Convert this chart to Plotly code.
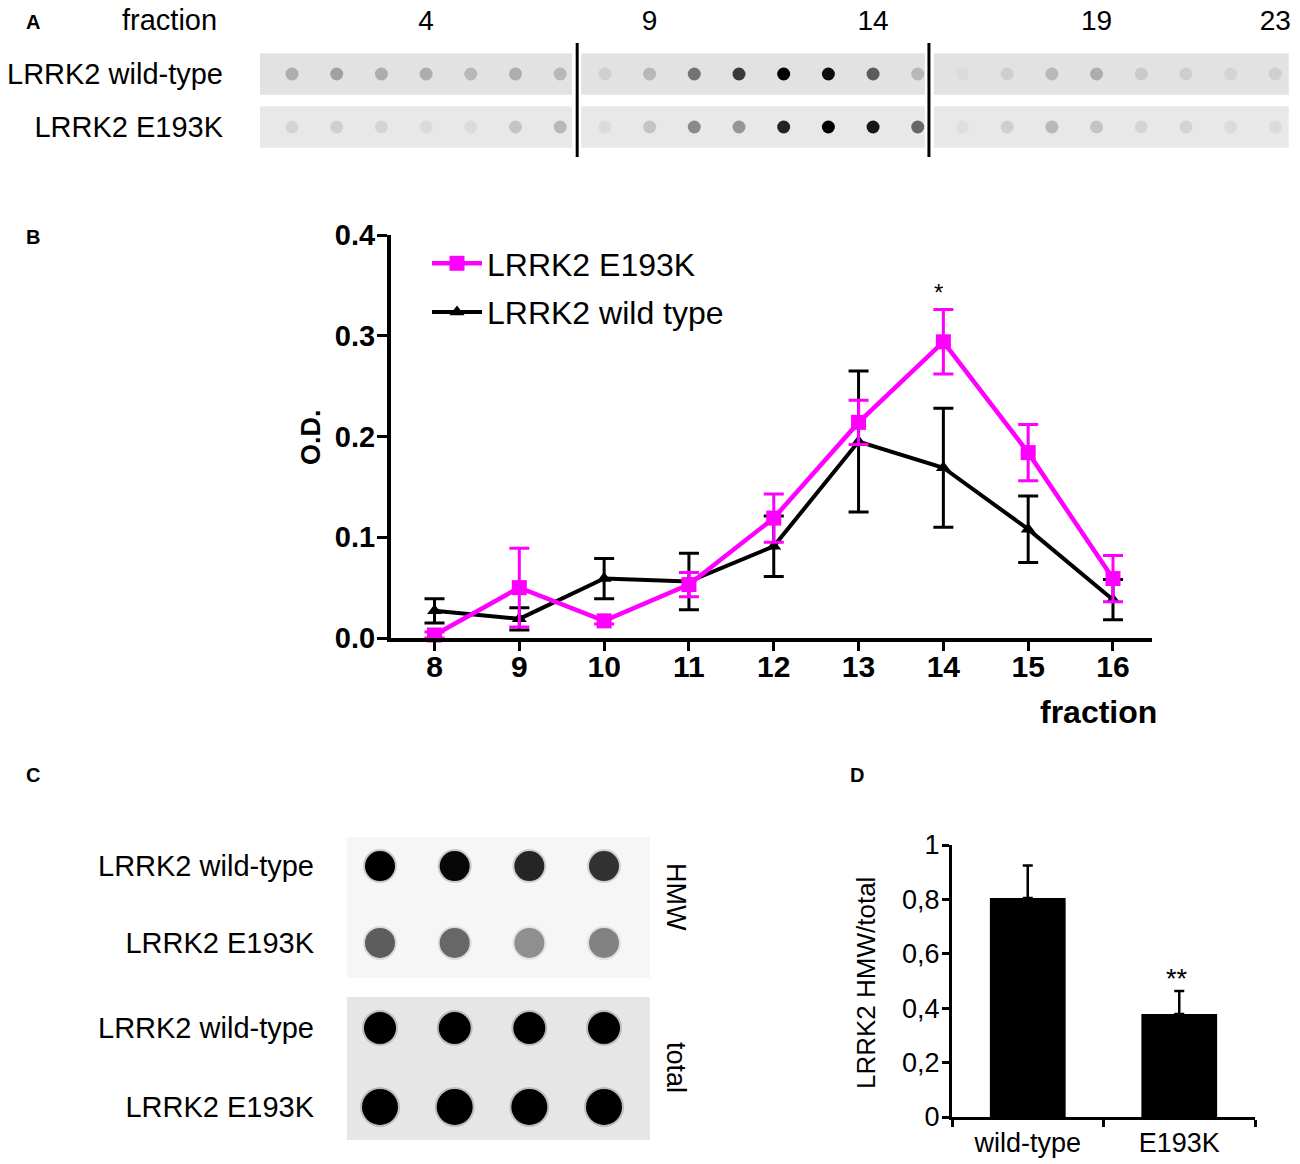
import plotly.graph_objects as go

W, H = 1300, 1164
FONT = "Liberation Sans, Arial, sans-serif"
MAGENTA = "#ff00ff"

# panel A: dot blot, fractions 1-23 (0 = no signal, 1 = black)
blot_fractions = list(range(1, 24))
blot_rows = ["LRRK2 wild-type", "LRRK2 E193K"]
blot_wt = [0.25, 0.3, 0.25, 0.25, 0.2, 0.25, 0.2, 0.1, 0.2, 0.5, 0.75, 1.0,
           0.95, 0.6, 0.2, 0.05, 0.1, 0.2, 0.25, 0.12, 0.1, 0.08, 0.1]
blot_e193k = [0.08, 0.1, 0.08, 0.05, 0.05, 0.15, 0.2, 0.05, 0.15, 0.4, 0.35, 0.85,
              1.0, 0.9, 0.55, 0.03, 0.1, 0.2, 0.15, 0.08, 0.08, 0.05, 0.05]
fraction_ticks = [4, 9, 14, 19, 23]

# panel B: O.D. per fraction (mean, sem)
fractions = [8, 9, 10, 11, 12, 13, 14, 15, 16]
od_e193k = [0.003, 0.05, 0.017, 0.053, 0.119, 0.214, 0.294, 0.184, 0.059]
od_e193k_err = [0.003, 0.039, 0.003, 0.012, 0.024, 0.022, 0.032, 0.028, 0.023]
od_wt = [0.027, 0.019, 0.059, 0.056, 0.091, 0.195, 0.169, 0.108, 0.038]
od_wt_err = [0.012, 0.011, 0.02, 0.028, 0.03, 0.07, 0.059, 0.033, 0.02]

# panel C: HMW and total dot blots, 4 replicates
replicates = [1, 2, 3, 4]
hmw_wt = [1.0, 0.97, 0.85, 0.8]
hmw_e193k = [0.62, 0.58, 0.42, 0.47]
total_wt = [1.0, 1.0, 1.0, 1.0]
total_e193k = [1.0, 1.0, 1.0, 1.0]

# panel D: HMW / total ratio
groups = ["wild-type", "E193K"]
hmw_ratio = [0.805, 0.379]
hmw_ratio_err = [0.12, 0.084]
d_ticks = [0, 0.2, 0.4, 0.6, 0.8, 1]


def px(x):
    return x / W


def py(y):
    return 1 - y / H


fig = go.Figure()

# --- A ---
for row, vals in zip(blot_rows, [blot_wt, blot_e193k]):
    fig.add_trace(go.Scatter(
        x=blot_fractions, y=[row] * len(blot_fractions), mode="markers",
        marker=dict(size=13, color=vals, cmin=0, cmax=1,
                    colorscale=[[0, "#e6e6e6"], [1, "#000000"]]),
        xaxis="x", yaxis="y", showlegend=False, hoverinfo="skip"))

# --- B ---
fig.add_trace(go.Scatter(
    x=fractions, y=od_wt, mode="lines+markers", name="LRRK2 wild type",
    line=dict(color="black", width=4),
    marker=dict(symbol="triangle-up", size=13, color="black"),
    error_y=dict(type="data", array=od_wt_err, color="black", thickness=3, width=10),
    xaxis="x2", yaxis="y2", legendgroup="wt", legendrank=2, cliponaxis=False))
fig.add_trace(go.Scatter(
    x=fractions, y=od_e193k, mode="lines+markers", name="LRRK2 E193K",
    line=dict(color=MAGENTA, width=4.5),
    marker=dict(symbol="square", size=15, color=MAGENTA),
    error_y=dict(type="data", array=od_e193k_err, color=MAGENTA, thickness=3, width=10),
    xaxis="x2", yaxis="y2", legendgroup="mut", legendrank=1, cliponaxis=False))

# --- C ---
for yax, vals_wt, vals_mut, bg, sizes in [
    ("y4", hmw_wt, hmw_e193k, "#f6f6f6", (30, 30)),
    ("y5", total_wt, total_e193k, "#e6e6e6", (32, 36)),
]:
    for row, vals, s in zip(blot_rows, [vals_wt, vals_mut], sizes):
        for extra, op in [(4, 0.18), (0, 1.0)]:
            fig.add_trace(go.Scatter(
                x=replicates, y=[row] * len(replicates), mode="markers",
                marker=dict(size=s + extra, color=vals, cmin=0, cmax=1, opacity=op,
                            colorscale=[[0, bg], [1, "#000000"]], line_width=0),
                xaxis="x4", yaxis=yax, showlegend=False, hoverinfo="skip"))

# --- D ---
fig.add_trace(go.Bar(
    x=[0, 1], y=hmw_ratio, width=0.5, marker=dict(color="black", line=dict(width=0)),
    error_y=dict(type="data", symmetric=False, array=hmw_ratio_err, arrayminus=[0, 0],
                 color="black", thickness=2.5, width=5),
    xaxis="x3", yaxis="y3", showlegend=False))

noax = dict(showgrid=False, zeroline=False, showline=False, automargin=False)

shapes = []
# strips of panel A
for r, col in [(0, "#e2e2e2"), (1, "#e8e8e8")]:
    for x0, x1 in [(0.284, 7.26), (7.47, 15.16), (15.36, 23.3)]:
        shapes.append(dict(type="rect", xref="x", yref="y", x0=x0, x1=x1,
                           y0=r - 0.39, y1=r + 0.39, fillcolor=col, line_width=0,
                           layer="below"))
for xs in [7.38, 15.25]:
    shapes.append(dict(type="line", xref="x", yref="y domain", x0=xs, x1=xs, y0=0, y1=1,
                       line=dict(color="black", width=3)))
# boxes of panel C
for yref, col in [("y4 domain", "#f6f6f6"), ("y5 domain", "#e6e6e6")]:
    shapes.append(dict(type="rect", xref="x4 domain", yref=yref, x0=0, x1=1, y0=0, y1=1,
                       fillcolor=col, line_width=0, layer="below"))

ann = []


def text(x, y, s, size, bold=False, xanchor="center", angle=0):
    ann.append(dict(x=px(x), y=py(y), xref="paper", yref="paper", text=s, showarrow=False,
                    xanchor=xanchor, yanchor="middle", textangle=angle,
                    font=dict(family=FONT, size=size, color="black",
                              weight="bold" if bold else "normal")))


for lab, x, y in [("A", 33, 22), ("B", 33, 237), ("C", 33, 775), ("D", 857, 775)]:
    text(x, y, lab, 20, bold=True)
text(169, 20, "fraction", 29)
text(311, 437, "O.D.", 27, bold=True, angle=-90)
text(1098, 712, "fraction", 32, bold=True)
text(938, 292, "*", 24)
text(676, 897, "HMW", 27, angle=90)
text(676, 1067, "total", 27, angle=90)
text(866, 983, "LRRK2 HMW/total", 26, angle=-90)
text(1177, 979, "**", 27)

fig.update_layout(
    width=W, height=H, margin=dict(l=0, r=0, t=0, b=0, autoexpand=False),
    paper_bgcolor="white", plot_bgcolor="rgba(0,0,0,0)",
    font=dict(family=FONT, color="black"),
    shapes=shapes, annotations=ann,
    legend=dict(x=px(427), y=py(236), xanchor="left", yanchor="top",
                bgcolor="rgba(0,0,0,0)", tracegroupgap=4, itemwidth=50,
                font=dict(family=FONT, size=32, color="black")),
    # A
    xaxis=dict(domain=[px(250), px(1295)], range=[0.06, 23.44], side="top", anchor="y",
               tickvals=fraction_ticks, ticks="", ticklabelstandoff=6,
               tickfont=dict(family=FONT, size=28, color="black"), **noax),
    yaxis=dict(domain=[py(157), py(43)], type="category", categoryarray=blot_rows,
               range=[1.566, -0.585], anchor="x", ticks="", ticklabelstandoff=26,
               tickfont=dict(family=FONT, size=29, color="black"), **noax),
    # B
    xaxis2=dict(domain=[px(391), px(1152)], range=[7.487, 16.46], anchor="y2",
                tickvals=fractions, showline=True, linewidth=4, linecolor="black",
                ticks="outside", ticklen=9, tickwidth=3, tickcolor="black",
                ticklabelstandoff=-10,
                tickfont=dict(family=FONT, size=30, color="black", weight="bold"),
                showgrid=False, zeroline=False, automargin=False),
    yaxis2=dict(domain=[py(638), py(235)], range=[0, 0.4], anchor="x2",
                tickvals=[0, 0.1, 0.2, 0.3, 0.4], tickformat=".1f",
                showline=True, linewidth=4, linecolor="black",
                ticks="outside", ticklen=10, tickwidth=3, tickcolor="black",
                ticklabelstandoff=-4,
                tickfont=dict(family=FONT, size=29, color="black", weight="bold"),
                showgrid=False, zeroline=False, automargin=False),
    # D
    xaxis3=dict(domain=[px(952), px(1255)], range=[-0.5, 1.5], anchor="y3",
                tickvals=[0, 1], ticktext=groups, ticks="",
                minor=dict(tick0=-0.5, dtick=1, ticks="outside", ticklen=7, tickwidth=3,
                           tickcolor="black"),
                showline=True, linewidth=3, linecolor="black",
                tickfont=dict(family=FONT, size=27, color="black"),
                showgrid=False, zeroline=False, automargin=False),
    yaxis3=dict(domain=[py(1117), py(845)], range=[0, 1], anchor="x3",
                tickvals=d_ticks, ticktext=[str(v).replace(".", ",") for v in d_ticks],
                showline=True, linewidth=3, linecolor="black",
                ticks="outside", ticklen=7, tickwidth=3, tickcolor="black",
                ticklabelstandoff=-3,
                tickfont=dict(family=FONT, size=27, color="black"),
                showgrid=False, zeroline=False, automargin=False),
    # C
    xaxis4=dict(domain=[px(347), px(650)], range=[0.558, 4.616], anchor="y4",
                visible=False),
    yaxis4=dict(domain=[py(978), py(837)], type="category", categoryarray=blot_rows,
                range=[1.455, -0.377], anchor="x4", ticks="", ticklabelstandoff=32,
                tickfont=dict(family=FONT, size=29, color="black"), **noax),
    yaxis5=dict(domain=[py(1140), py(997)], type="category", categoryarray=blot_rows,
                range=[1.418, -0.392], anchor="x4", ticks="", ticklabelstandoff=32,
                tickfont=dict(family=FONT, size=29, color="black"), **noax),
)

fig.write_html("out.html", config={"displayModeBar": False},
               post_script="document.body.style.margin = '0px';")
